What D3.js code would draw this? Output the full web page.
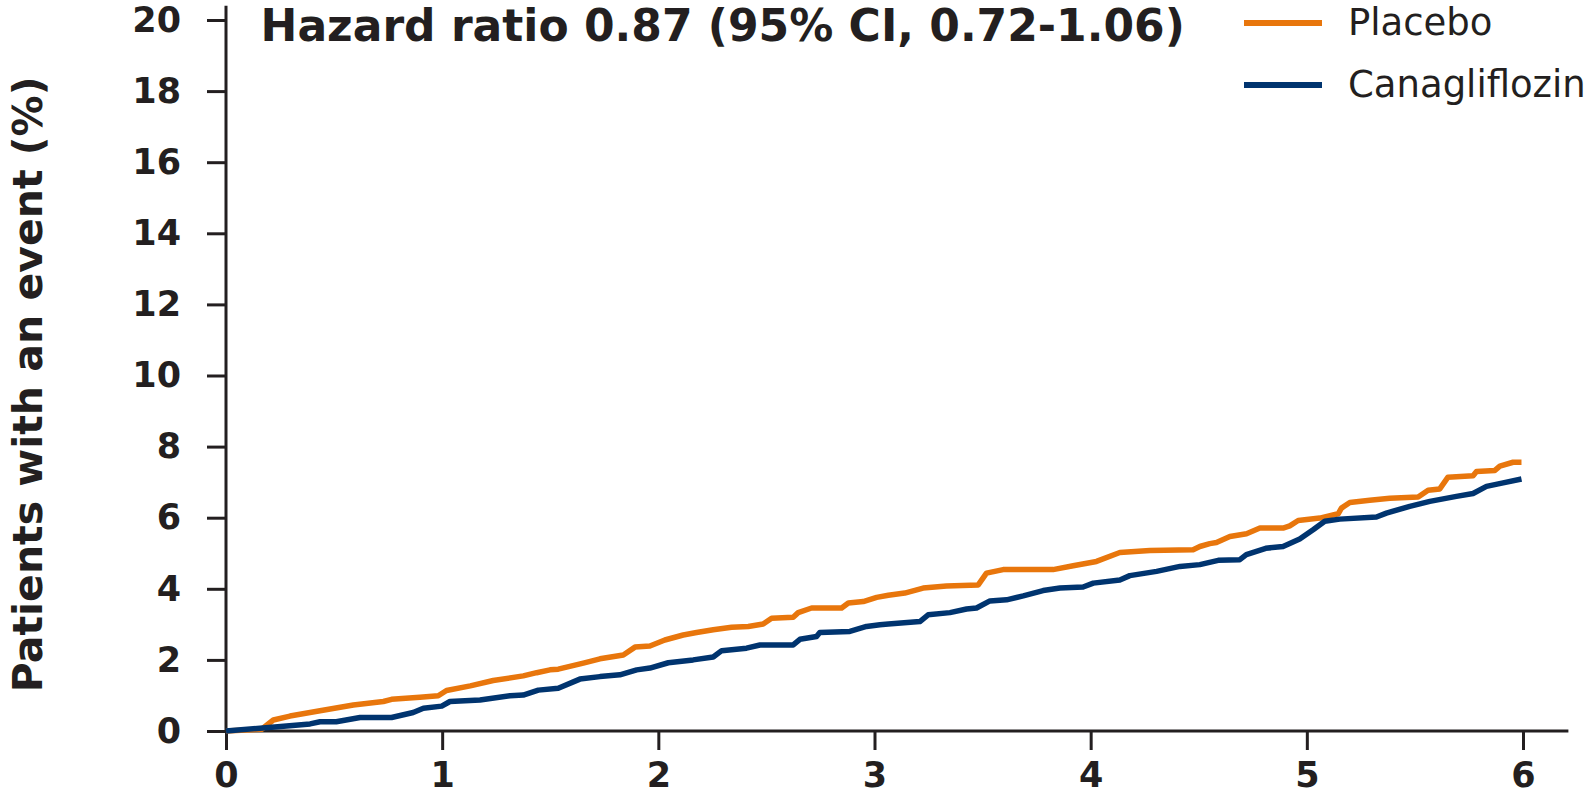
<!DOCTYPE html>
<html>
<head>
<meta charset="utf-8">
<script src="https://cdn.jsdelivr.net/npm/d3@7"></script>
<style>
    body { margin: 0; background: #fff; }
    .axis-title, .tick-label, .hr-title, .legend-text { font-family: "DejaVu Sans", Verdana, sans-serif; fill: #231f20; }
</style>
</head>
<body>
<div id="chart"></div>
<script>

// Kaplan-Meier style cumulative incidence
var placeboYears = [0, 0.165, 0.219, 0.296, 0.435, 0.589, 0.728, 0.766, 0.897, 0.982, 1.02, 1.13, 1.236, 1.375, 1.437, 1.499, 1.537,
    1.653, 1.73, 1.838, 1.892, 1.961, 2.03, 2.115, 2.177, 2.254, 2.339, 2.416, 2.485, 2.524, 2.624, 2.647, 2.709, 2.848, 2.879, 2.948,
    3.01, 3.064, 3.14, 3.225, 3.333, 3.48, 3.518, 3.595, 3.826, 3.919, 4.027, 4.135, 4.274, 4.474, 4.505, 4.551, 4.582, 4.644, 4.721,
    4.783, 4.89, 4.921, 4.96, 5.06, 5.145, 5.16, 5.199, 5.291, 5.384, 5.515, 5.561, 5.615, 5.653, 5.769, 5.785, 5.87, 5.893, 5.954, 5.993];
var placeboPct = [0, 0.05, 0.31, 0.42, 0.57, 0.73, 0.83, 0.89, 0.95, 0.99, 1.14, 1.27, 1.42, 1.55, 1.64, 1.72, 1.74,
    1.91, 2.03, 2.14, 2.36, 2.39, 2.56, 2.70, 2.77, 2.85, 2.92, 2.94, 3.01, 3.17, 3.20, 3.33, 3.46, 3.46, 3.60, 3.64,
    3.76, 3.82, 3.88, 4.02, 4.08, 4.11, 4.44, 4.54, 4.54, 4.65, 4.77, 5.02, 5.08, 5.10, 5.19, 5.27, 5.30, 5.47, 5.55,
    5.71, 5.71, 5.77, 5.92, 5.99, 6.11, 6.27, 6.43, 6.49, 6.55, 6.58, 6.77, 6.81, 7.14, 7.18, 7.30, 7.33, 7.45, 7.56, 7.56];

var canaYears = [0, 0.157, 0.28, 0.389, 0.435, 0.51, 0.62, 0.766, 0.866, 0.913, 0.998, 1.036, 1.175, 1.314, 1.375, 1.445, 1.537,
    1.637, 1.73, 1.822, 1.90, 1.961, 2.046, 2.161, 2.254, 2.293, 2.408, 2.47, 2.624, 2.655, 2.732, 2.747, 2.886, 2.963, 3.025, 3.064,
    3.21, 3.248, 3.349, 3.426, 3.472, 3.534, 3.611, 3.688, 3.78, 3.858, 3.965, 4.012, 4.135, 4.181, 4.305, 4.413, 4.505, 4.59,
    4.69, 4.72, 4.81, 4.89, 4.967, 5.029, 5.083, 5.152, 5.322, 5.368, 5.476, 5.569, 5.692, 5.769, 5.831, 5.908, 5.993];
var canaPct = [0, 0.08, 0.14, 0.20, 0.26, 0.26, 0.38, 0.38, 0.52, 0.64, 0.70, 0.83, 0.87, 0.99, 1.01, 1.15, 1.20,
    1.46, 1.53, 1.58, 1.72, 1.77, 1.92, 2.00, 2.08, 2.26, 2.33, 2.42, 2.42, 2.58, 2.66, 2.77, 2.80, 2.94, 2.99, 3.01,
    3.08, 3.27, 3.33, 3.43, 3.46, 3.66, 3.69, 3.80, 3.95, 4.02, 4.05, 4.16, 4.25, 4.37, 4.49, 4.63, 4.68, 4.80,
    4.82, 4.96, 5.14, 5.19, 5.40, 5.66, 5.90, 5.96, 6.02, 6.13, 6.32, 6.46, 6.60, 6.68, 6.88, 6.98, 7.09];

var seriesNames = ["Placebo", "Canagliflozin"];
var seriesColors = ["#e8760c", "#00346f"];
var xTicks = [0, 1, 2, 3, 4, 5, 6];
var yTicks = [0, 2, 4, 6, 8, 10, 12, 14, 16, 18, 20];
var titleText = "Hazard ratio 0.87 (95% CI, 0.72-1.06)";
var yAxisLabel = "Patients with an event  (%)";

var width = 1589, height = 794;
var margin = { top: 20, right: 66, bottom: 63, left: 226 };

var svg = d3.select("#chart").append("svg")
    .attr("width", width)
    .attr("height", height);

svg.append("rect")
    .attr("width", width)
    .attr("height", height)
    .attr("fill", "#fff");

// Scales
var x = d3.scaleLinear()
    .domain([0, 6])
    .range([margin.left, width - margin.right]);

var y = d3.scaleLinear()
    .domain([0, 20])
    .range([height - margin.bottom, margin.top]);

var axisColor = "#231f20";

// Axes (domain lines drawn a bit past the last tick like the original)
var xAxis = d3.axisBottom(x)
    .tickValues(xTicks)
    .tickSize(19)
    .tickSizeOuter(0)
    .tickPadding(12)
    .tickFormat(d3.format("d"));

var yAxis = d3.axisLeft(y)
    .tickValues(yTicks)
    .tickSize(19)
    .tickSizeOuter(0)
    .tickPadding(26)
    .tickFormat(d3.format("d"));

var gx = svg.append("g")
    .attr("class", "x-axis axis")
    .attr("transform", "translate(0," + y(0) + ")")
    .call(xAxis);

var gy = svg.append("g")
    .attr("class", "y-axis axis")
    .attr("transform", "translate(" + x(0) + ",0)")
    .call(yAxis);

gx.select(".domain").attr("d", "M" + x(0) + ",0H" + x(6.21));
gy.select(".domain").attr("d", "M0," + y(0) + "V" + y(20.4));

[gx, gy].forEach(function(g){
    g.selectAll("path, line")
        .attr("stroke", axisColor)
        .attr("stroke-width", 3);
    g.selectAll("text")
        .attr("class", "tick-label")
        .style("font-size", "35px")
        .style("font-weight", "bold")
        .attr("fill", "#000");
});
gx.selectAll("text").attr("dy", "0.71em");

// Axis title
svg.append("text")
    .attr("class", "axis-title")
    .attr("transform", "translate(" + 42 + "," + y(9.75) + ") rotate(-90)")
    .attr("text-anchor", "middle")
    .style("font-size", "41px")
    .style("font-weight", "bold")
    .text(yAxisLabel);

// Hazard ratio annotation
svg.append("text")
    .attr("class", "hr-title")
    .attr("x", x(0.16))
    .attr("y", y(19.4))
    .style("font-size", "44px")
    .style("font-weight", "bold")
    .text(titleText);

// Curves
var line = d3.line()
    .x(function(d){ return x(d.t); })
    .y(function(d){ return y(d.v); })
    .curve(d3.curveLinear);

var series = [
    { name: seriesNames[0], color: seriesColors[0], values: placeboYears.map(function(t, i){ return { t: t, v: placeboPct[i] }; }) },
    { name: seriesNames[1], color: seriesColors[1], values: canaYears.map(function(t, i){ return { t: t, v: canaPct[i] }; }) }
];

svg.selectAll(".km-line")
    .data(series)
    .enter().append("path")
    .attr("class", "km-line")
    .attr("fill", "none")
    .attr("stroke", function(d){ return d.color; })
    .attr("stroke-width", 5.5)
    .attr("stroke-linejoin", "round")
    .attr("d", function(d){ return line(d.values); });

// Legend
var legend = svg.selectAll(".legend")
    .data(series)
    .enter().append("g")
    .attr("class", "legend")
    .attr("transform", function(d, i){ return "translate(1244," + (23 + i * 62) + ")"; });

legend.append("line")
    .attr("x1", 0)
    .attr("x2", 78)
    .attr("stroke", function(d){ return d.color; })
    .attr("stroke-width", 6);

legend.append("text")
    .attr("class", "legend-text")
    .attr("x", 104)
    .attr("y", 12)
    .style("font-size", "37px")
    .attr("fill", "#000")
    .text(function(d){ return d.name; });

</script>
</body>
</html>
